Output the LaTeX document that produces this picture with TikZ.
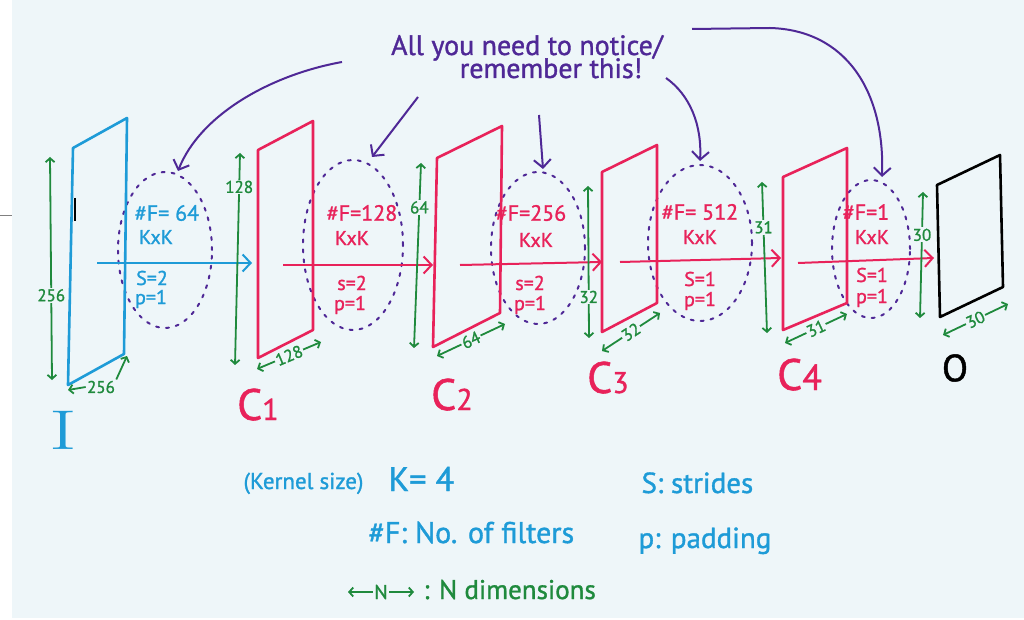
\documentclass[tikz,border=0pt]{standalone}
\usepackage{fontspec}
\newfontfamily\hand[FakeBold=1.2]{PT Sans}
\usetikzlibrary{arrows.meta,shapes.geometric}
\definecolor{bg}{HTML}{EEF6F9}
\definecolor{cblue}{HTML}{1E9BD7}
\definecolor{cpink}{HTML}{E8225A}
\definecolor{cgreen}{HTML}{1F8A3D}
\definecolor{cpurple}{HTML}{4F2896}
\newcommand{\fs}[1]{\fontsize{#1}{#1}\selectfont}
\begin{document}
\begin{tikzpicture}[x=1pt,y=-1pt,
  layer/.style={line width=2.6pt, line join=round},
  flow/.style={line width=2pt, -{Straight Barb[length=8pt,width=17pt,line width=2pt]}},
  dim/.style={cgreen, line width=1.8pt, {Straight Barb[length=4pt,width=9pt]}-{Straight Barb[length=4pt,width=9pt]}},
  dimone/.style={cgreen, line width=1.8pt, -{Straight Barb[length=4pt,width=9pt]}},
  dimlab/.style={fill=bg, inner sep=1.2pt, text=cgreen, font=\hand\fs{17}},
  cloud/.style={ellipse, draw=cpurple, line width=2pt, dash pattern=on 3pt off 7pt, line cap=round, inner sep=0pt},
  note/.style={cpurple, line width=2pt, -{Straight Barb[length=8pt,width=17pt]}},
  big/.style={font=\hand\fs{22}},
  small/.style={font=\hand\fs{20}},
  title/.style={text=cpurple, font=\hand\fs{28}},
  legend/.style={text=cblue, font=\hand\fs{29}, anchor=base west},
]
% canvas
\useasboundingbox (0,0) rectangle (1024,620);
\fill[white] (0,0) rectangle (1024,620);
\fill[bg] (12,0) rectangle (1024,618);
\draw[gray, line width=1pt] (0,216) -- (12,216);

% dotted clouds
\node[cloud, minimum width=94pt, minimum height=156pt] (e1) at (165,250) {};
\node[cloud, minimum width=100pt, minimum height=170pt] (e2) at (353,245) {};
\node[cloud, minimum width=94pt, minimum height=152pt] (e3) at (538,248) {};
\node[cloud, minimum width=104pt, minimum height=156pt] (e4) at (700,243) {};
\node[cloud, minimum width=78pt, minimum height=138pt] (e5) at (871,249) {};

% layers
\coordinate (I1) at (73,148); \coordinate (I2) at (127,118); \coordinate (I3) at (124,354); \coordinate (I4) at (68,385);
\draw[layer, cblue] (I1) -- (I2) -- (I3) -- (I4) -- cycle;
\draw[black, line width=1.6pt] (75,198) -- (75,221);
\coordinate (A1) at (258,150); \coordinate (A2) at (313,121); \coordinate (A3) at (313,330); \coordinate (A4) at (258,358);
\draw[layer, cpink] (A1) -- (A2) -- (A3) -- (A4) -- cycle;
\coordinate (B1) at (437,158); \coordinate (B2) at (502,126); \coordinate (B3) at (500,313); \coordinate (B4) at (433,347);
\draw[layer, cpink] (B1) -- (B2) -- (B3) -- (B4) -- cycle;
\coordinate (D1) at (602,172); \coordinate (D2) at (657,145); \coordinate (D3) at (657,303); \coordinate (D4) at (602,332);
\draw[layer, cpink] (D1) -- (D2) -- (D3) -- (D4) -- cycle;
\coordinate (F1) at (783,177); \coordinate (F2) at (847,148); \coordinate (F3) at (847,303); \coordinate (F4) at (783,330);
\draw[layer, cpink] (F1) -- (F2) -- (F3) -- (F4) -- cycle;
\coordinate (O1) at (937,185); \coordinate (O2) at (1000,155); \coordinate (O3) at (1003,287); \coordinate (O4) at (940,317);
\draw[layer, black] (O1) -- (O2) -- (O3) -- (O4) -- cycle;

% flow arrows
\coordinate (s1) at (97,263);  \coordinate (t1) at (252,263);
\coordinate (s2) at (283,265); \coordinate (t2) at (433,265);
\coordinate (s3) at (460,265); \coordinate (t3) at (602,262);
\coordinate (s4) at (620,262); \coordinate (t4) at (781,258);
\coordinate (s5) at (798,263); \coordinate (t5) at (934,258);
\draw[flow, cblue] (s1) -- (t1);
\draw[flow, cpink] (s2) -- (t2);
\draw[flow, cpink] (s3) -- (t3);
\draw[flow, cpink] (s4) -- (t4);
\draw[flow, cpink] (s5) -- (t5);

% cloud texts
\node[big, text=cblue] (f1) at (167,213) {\#F= 64};
\node[small, text=cblue] (k1) at (156,237) {KxK};
\node[small, text=cblue] (st1) at (152,278) {S=2};
\node[small, text=cblue] (p1) at (151,299) {p=1};

\node[big, text=cpink] (f2) at (362,213) {\#F=128};
\node[small, text=cpink] (k2) at (352,238) {KxK};
\node[small, text=cpink] (st2) at (352,283) {s=2};
\node[small, text=cpink] (p2) at (350,305) {p=1};

\node[big, text=cpink] (f3) at (531,213) {\#F=256};
\node[small, text=cpink] (k3) at (536,240) {KxK};
\node[small, text=cpink] (st3) at (530,283) {s=2};
\node[small, text=cpink] (p3) at (530,305) {p=1};

\node[big, text=cpink] (f4) at (700,212) {\#F= 512};
\node[small, text=cpink] (k4) at (700,237) {KxK};
\node[small, text=cpink] (st4) at (700,279) {S=1};
\node[small, text=cpink] (p4) at (700,301) {p=1};

\node[big, text=cpink] (f5) at (866,212) {\#F=1};
\node[small, text=cpink] (k5) at (872,237) {KxK};
\node[small, text=cpink] (st5) at (872,275) {S=1};
\node[small, text=cpink] (p5) at (872,298) {p=1};

% vertical dimensions
\coordinate (v1a) at (50,157); \coordinate (v1b) at (52,380);
\draw[dim] (v1a) -- node[dimlab, pos=0.62] {256} (v1b);
\coordinate (v2a) at (240,153); \coordinate (v2b) at (235,365);
\draw[dim] (v2a) -- node[dimlab, pos=0.16] {128} (v2b);
\coordinate (v3a) at (421,163); \coordinate (v3b) at (414,348);
\draw[dim] (v3a) -- node[dimlab, pos=0.24] {64} (v3b);
\coordinate (v4a) at (588,186); \coordinate (v4b) at (589,338);
\draw[dim] (v4a) -- node[dimlab, pos=0.73] {32} (v4b);
\coordinate (v5a) at (762,182); \coordinate (v5b) at (767,333);
\draw[dim] (v5a) -- node[dimlab, pos=0.3] {31} (v5b);
\coordinate (v6a) at (923,192); \coordinate (v6b) at (920,318);
\draw[dim] (v6a) -- node[dimlab, pos=0.34] {30} (v6b);

% slanted dimensions
\node[dimlab] (h1) at (101,387) {256};
\coordinate (h1l) at (68,390); \coordinate (h1r) at (127,356);
\draw[dimone] (h1.west) -- (h1l);
\draw[dimone] (h1.north east) -- (h1r);
\coordinate (h2l) at (257,369); \coordinate (h2r) at (321,342);
\draw[dim] (h2l) -- node[dimlab, sloped] {128} (h2r);
\coordinate (h3l) at (437,356); \coordinate (h3r) at (505,324);
\draw[dim] (h3l) -- node[dimlab, sloped] {64} (h3r);
\coordinate (h4l) at (602,351); \coordinate (h4r) at (660,313);
\draw[dim] (h4l) -- node[dimlab, sloped] {32} (h4r);
\coordinate (h5l) at (785,343); \coordinate (h5r) at (847,314);
\draw[dim] (h5l) -- node[dimlab, sloped] {31} (h5r);
\coordinate (h6l) at (943,335); \coordinate (h6r) at (1008,304);
\draw[dim] (h6l) -- node[dimlab, sloped] {30} (h6r);

% layer labels
\node[text=cblue, font=\rmfamily\fs{56}, xscale=1.5] (lI) at (63,430) {I};
\node[text=cpink, font=\hand\fs{44}, anchor=base west, inner sep=0pt] (lC1) at (237,420) {C\fs{30}1};
\node[text=cpink, font=\hand\fs{44}, anchor=base west, inner sep=0pt] (lC2) at (431,410) {C\fs{30}2};
\node[text=cpink, font=\hand\fs{44}, anchor=base west, inner sep=0pt] (lC3) at (587,393) {C\fs{30}3};
\node[text=cpink, font=\hand\fs{44}, anchor=base west, inner sep=0pt] (lC4) at (777,390) {C\fs{36}4};
\node[text=black, font=\hand\fs{38}] (lO) at (955,368) {O};

% title and pointers
\node[title, anchor=base] (tt1) at (527,55) {All you need to notice/};
\node[title, anchor=base] (tt2) at (551,78) {remember this!};
\coordinate (n1) at (342,62);
\coordinate (n2) at (418,97);
\coordinate (n3) at (539,115);
\coordinate (n4) at (666,78);
\coordinate (n5) at (692,29);
\draw[note] (n1) .. controls (270,75) and (200,115) .. ([xshift=13pt,yshift=0pt]e1.north);
\draw[note] (n2) -- ([xshift=19pt,yshift=2pt]e2.north);
\draw[note] (n3) -- ([xshift=5pt,yshift=2pt]e3.north);
\draw[note] (n4) .. controls (690,95) and (702,125) .. ([yshift=3pt]e4.north);
\draw[note] (n5) -- (770,28) .. controls (845,30) and (885,90) .. ([xshift=11pt,yshift=2pt]e5.north);

% legend
\node[legend, font=\hand\fs{23}] (lg1) at (240,489) {(Kernel size)};
\node[legend, font=\hand\fs{34}] (lg2) at (385,491) {K= 4};
\node[legend] (lg3) at (638,493) {S: strides};
\node[legend, font=\hand\fs{30}] (lg4) at (365,543) {\#F: No. of filters};
\node[legend] (lg5) at (635,548) {p: padding};
\coordinate (nl) at (348,592); \coordinate (nr) at (414,592);
\draw[dim] (nl) -- node[dimlab, font=\hand\fs{20}] {N} (nr);
\node[legend, text=cgreen, font=\hand\fs{27}] (lg6) at (420,599) {: N dimensions};
\end{tikzpicture}
\end{document}
